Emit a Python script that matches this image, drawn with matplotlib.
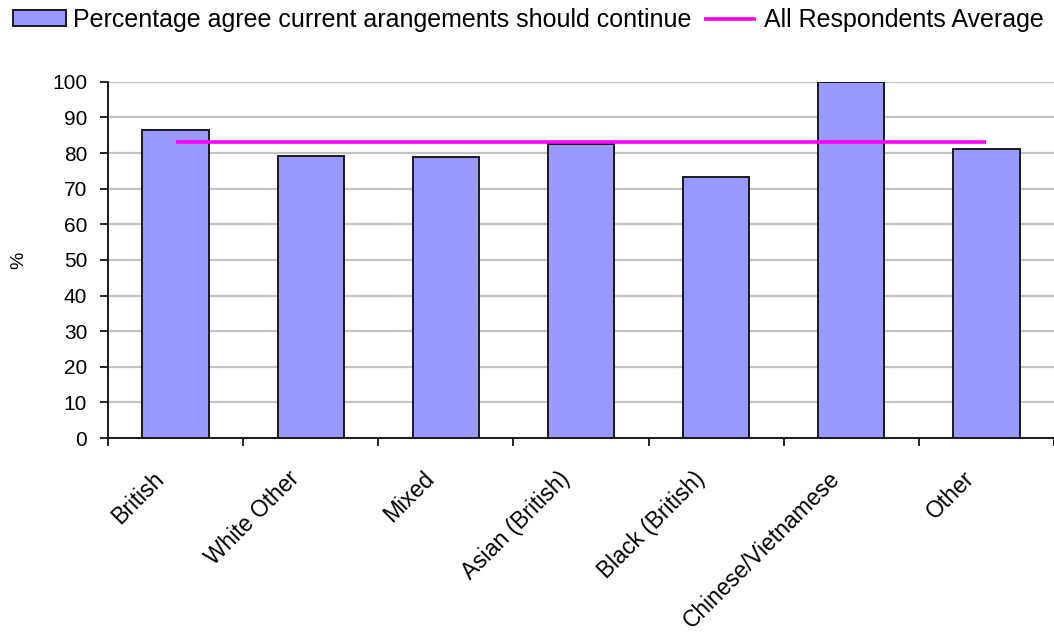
import matplotlib
matplotlib.use("Agg")
import matplotlib.pyplot as plt
import matplotlib.transforms as mtransforms
import numpy as np

# Survey results by ethnic group
categories = ["British", "White Other", "Mixed", "Asian (British)",
              "Black (British)", "Chinese/Vietnamese", "Other"]
agree_pct = [86.5, 79.3, 78.8, 82.4, 73.4, 100.0, 81.0]
all_average = 83.0
y_ticks = [0, 10, 20, 30, 40, 50, 60, 70, 80, 90, 100]

plt.rcParams['font.family'] = ['Liberation Sans', 'DejaVu Sans']

fig = plt.figure(figsize=(10.54, 6.34), dpi=100)
ax = fig.add_axes([0.1025, 0.309, 0.8975, 0.562])

x = np.arange(len(categories))
ax.set_axisbelow(True)
bars = ax.bar(x, agree_pct, width=0.49, color="#9999FF", edgecolor="#1a1a1a",
              linewidth=1.4, label="Percentage agree current arangements should continue")
avg_line, = ax.plot([x[0], x[-1]], [all_average, all_average], color="#FF00FF",
                    linewidth=2.6, solid_capstyle="butt", label="All Respondents Average")

ax.set_xlim(-0.5, len(categories) - 0.5)
ax.set_ylim(0, 100)
ax.set_yticks(y_ticks)
ax.yaxis.grid(True, color="#c4c4c4", linewidth=1.6)
ax.tick_params(axis="y", labelsize=15, length=6, width=1.2, direction="out", pad=9)

# Category labels: slanted, ending just left of each bar's centre
ax.set_xticks([])
ax.set_xticks(np.arange(-0.5, len(categories) + 0.5, 1.0), minor=True)
ax.tick_params(axis="x", which="minor", length=6, width=1.2, direction="out",
               labelbottom=False)
label_tf = ax.get_xaxis_transform() + mtransforms.ScaledTranslation(
    -7 / 100, -29 / 100, fig.dpi_scale_trans)
for xi, name in zip(x, categories):
    ax.text(xi, 0, name, transform=label_tf, rotation=45, ha="right", va="top",
            fontsize=16.5)

for side in ("top", "right"):
    ax.spines[side].set_visible(False)
for side in ("left", "bottom"):
    ax.spines[side].set_linewidth(1.4)
    ax.spines[side].set_color("#1a1a1a")

fig.text(0.018, 0.59, "%", rotation=90, fontsize=14, ha="center", va="center")

fig.legend(handles=[bars, avg_line], loc="upper left", bbox_to_anchor=(13 / 1054, 1 - 8 / 634),
           ncol=2, frameon=False, fontsize=18, handlelength=2.1, handleheight=0.62,
           handletextpad=0.3, columnspacing=0.5, borderaxespad=0.0, borderpad=0.0)

fig.savefig("out.png", dpi=100)
